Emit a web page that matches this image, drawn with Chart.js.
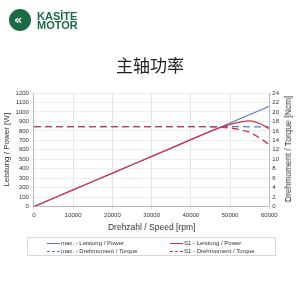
<!DOCTYPE html>
<html><head><meta charset="utf-8">
<script src="https://cdn.jsdelivr.net/npm/chart.js@4/dist/chart.umd.min.js"></script>
<style>
html,body{margin:0;padding:0;background:#fff;width:300px;height:300px;overflow:hidden;font-family:"Liberation Sans",Arial,sans-serif;}
#wrap{position:absolute;left:0;top:0;width:300px;height:300px;}
#logo{position:absolute;left:9px;top:9px;width:22px;height:22px;border-radius:50%;background:#1c6b47;}
#logoMark{position:absolute;left:5px;top:4px;color:#fff;font:bold 13px "DejaVu Sans",sans-serif;line-height:14px;}
#brand{position:absolute;left:37px;top:12px;color:#1c6b47;font:bold 11px "Liberation Sans",Arial,sans-serif;line-height:9px;}
#title{position:absolute;left:0;width:300px;top:52px;text-align:center;font:17px "Noto Sans CJK SC",sans-serif;color:#222;}
#rtitle{position:absolute;left:288px;top:149px;width:0;height:0;}
#rtitle span{position:absolute;white-space:nowrap;transform:translate(-50%,-50%) rotate(-90deg);font:8.5px "Liberation Sans",Arial,sans-serif;color:#333;}
#legend{position:absolute;left:27px;top:237px;width:249px;height:19px;border:1px solid #d8d8d8;box-sizing:border-box;font:6px "Liberation Sans",Arial,sans-serif;color:#333;}
.li{position:absolute;height:7px;line-height:7px;white-space:nowrap;}
.sw{display:inline-block;width:13px;height:0;vertical-align:middle;margin-right:1px;}
</style></head>
<body>
<div id="wrap"><canvas id="c" width="300" height="300"></canvas></div>
<div id="logo"><span id="logoMark">«</span></div>
<div id="brand">KASİTE<br>MOTOR</div>
<div id="title">主轴功率</div>
<div id="rtitle"><span>Drehmoment / Torque [Ncm]</span></div>
<div id="legend"></div>
<script>
const speeds = [0, 10000, 20000, 30000, 40000, 45000, 50000, 52500, 55000, 57500, 60000];
const maxPower = [0, 177, 353, 530, 707, 795, 883, 927, 972, 1016, 1060];
const s1Power = [0, 177, 353, 530, 707, 795, 868, 893, 905, 878, 822];
const maxTorque = [16.9, 16.9, 16.9, 16.9, 16.9, 16.9, 16.9, 16.9, 16.85, 16.85, 16.8];
const s1Torque = [16.9, 16.9, 16.9, 16.9, 16.9, 16.85, 16.6, 16.25, 15.7, 14.5, 13.1];
const seriesNames = ["max. - Leistung / Power", "S1 - Leistung / Power", "max. - Drehmoment / Torque", "S1 - Drehmoment / Torque"];
const blue = "#5a78d0", red = "#d2354f", red2 = "#c23a55";

const pts = arr => speeds.map((s,i)=>({x:s,y:arr[i]}));
const tickFont = {family:"Liberation Sans, Arial, sans-serif", size:6};
const titleFont = {family:"Liberation Sans, Arial, sans-serif", size:8.5};
const plain = v => String(v);

new Chart(document.getElementById('c'), {
  type:'line',
  data:{datasets:[
    {label:seriesNames[0], data:pts(maxPower), borderColor:blue, borderWidth:1.1, yAxisID:'y', pointRadius:0, order:3},
    {label:seriesNames[1], data:pts(s1Power), borderColor:red, borderWidth:1.3, yAxisID:'y', pointRadius:0, cubicInterpolationMode:'monotone', order:1},
    {label:seriesNames[2], data:pts(maxTorque), borderColor:blue, borderWidth:1.3, borderDash:[7,4], yAxisID:'y2', pointRadius:0, order:2},
    {label:seriesNames[3], data:pts(s1Torque), borderColor:red2, borderWidth:1.3, borderDash:[7,4], yAxisID:'y2', pointRadius:0, cubicInterpolationMode:'monotone', order:0}
  ]},
  options:{
    responsive:false, animation:false, devicePixelRatio:1,
    layout:{padding:{left:2, right:20, top:93, bottom:67}},
    plugins:{legend:{display:false}, tooltip:{enabled:false}},
    scales:{
      x:{type:'linear', min:0, max:60000, ticks:{stepSize:10000, autoSkip:false, callback:plain, font:tickFont, color:'#333', maxRotation:0, padding:2},
         grid:{color:'#e4e4e4', tickLength:3}, border:{color:'#bbb'},
         title:{display:true, text:'Drehzahl / Speed [rpm]', font:titleFont, color:'#333', padding:{top:2,bottom:0}}},
      y:{position:'left', min:0, max:1200, ticks:{stepSize:100, autoSkip:false, callback:plain, font:tickFont, color:'#333', padding:2},
         grid:{color:'#efefef', tickLength:3}, border:{color:'#bbb'},
         title:{display:true, text:'Leistung / Power [W]', font:{family:"Liberation Sans, Arial, sans-serif", size:8}, color:'#333', padding:{top:0,bottom:2}}},
      y2:{position:'right', min:0, max:24, ticks:{stepSize:2, autoSkip:false, callback:plain, font:tickFont, color:'#333', padding:1},
         grid:{drawOnChartArea:false, tickLength:2}, border:{color:'#bbb'},
         title:{display:false}}
    }
  }
});

// HTML legend (2 x 2)
const lg = document.getElementById('legend');
const styles = [
  {c:blue, d:'solid', x:19, y:2},
  {c:red, d:'solid', x:142, y:2},
  {c:blue, d:'dashed', x:19, y:10},
  {c:red2, d:'dashed', x:142, y:10}
];
seriesNames.forEach((n,i)=>{
  const s = styles[i];
  const d = document.createElement('div');
  d.className='li'; d.style.left=s.x+'px'; d.style.top=s.y+'px';
  d.innerHTML = '<span class="sw" style="border-top:1.3px '+s.d+' '+s.c+'"></span>'+n;
  lg.appendChild(d);
});
</script>
</body></html>
